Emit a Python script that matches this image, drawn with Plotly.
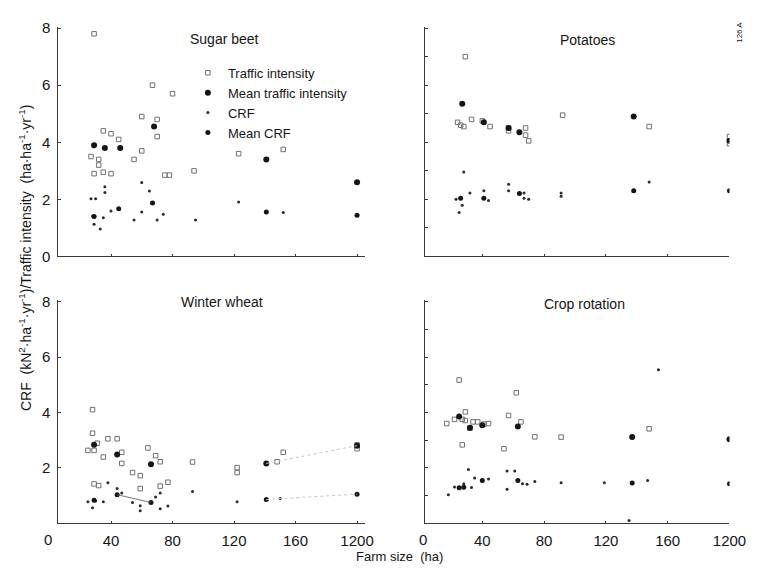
import plotly.graph_objects as go

# ---------------- data (farm size in ha; 1200 ha drawn on the broken end of the axis) ----------------
x_tick_vals = [0, 40, 80, 120, 160, 200]
x_tick_text = ["0", "40", "80", "120", "160", "1200"]
y_tick_vals_top = [0, 2, 4, 6, 8]
y_tick_vals_bottom = [2, 4, 6, 8]

# Sugar beet
beet_ti_x = [29, 67, 80, 35, 40, 45, 60, 70, 70, 60, 55, 27, 32, 32, 29, 35, 40, 75, 78, 94, 123, 152]
beet_ti_y = [7.8, 6.0, 5.7, 4.4, 4.3, 4.1, 4.9, 4.8, 4.2, 3.7, 3.4, 3.5, 3.4, 3.2, 2.9, 2.95, 2.9, 2.85, 2.85, 3.0, 3.6, 3.75]
beet_mti_x = [29, 36, 46, 68, 141, 1200]
beet_mti_y = [3.9, 3.8, 3.8, 4.55, 3.4, 2.6]
beet_crf_x = [28, 29, 33, 27, 30, 36, 36, 35, 40, 55, 60, 60, 65, 70, 74, 95, 123, 152]
beet_crf_y = [1.42, 1.13, 0.96, 2.02, 2.02, 2.44, 2.24, 1.36, 1.59, 1.28, 2.59, 1.56, 2.29, 1.28, 1.48, 1.28, 1.91, 1.54]
beet_mcrf_x = [29, 45, 67, 141, 1200]
beet_mcrf_y = [1.40, 1.67, 1.87, 1.56, 1.44]

# Potatoes
pot_ti_x = [29, 24, 28, 26, 33, 40, 45, 57, 57, 68, 68, 70, 92, 148, 1200, 1200]
pot_ti_y = [7.0, 4.7, 4.55, 4.6, 4.8, 4.75, 4.55, 4.5, 4.4, 4.5, 4.25, 4.05, 4.95, 4.55, 4.2, 3.95]
pot_mti_x = [27, 41, 57, 64, 138, 1200]
pot_mti_y = [5.35, 4.7, 4.5, 4.35, 4.9, 4.05]
pot_crf_x = [28, 23, 27, 25, 32, 41, 44, 57, 57, 67, 67, 70, 91, 91, 148]
pot_crf_y = [2.96, 2.0, 1.79, 1.54, 2.22, 2.30, 1.96, 2.53, 2.30, 2.22, 2.04, 2.0, 2.22, 2.11, 2.61]
pot_mcrf_x = [26, 41, 64, 138, 1200]
pot_mcrf_y = [2.04, 2.04, 2.21, 2.30, 2.30]

# Winter wheat
wheat_ti_x = [28, 28, 25, 29, 31, 38, 44, 35, 47, 47, 64, 69, 72, 54, 59, 29, 32, 59, 72, 77, 93, 122, 122, 152, 148, 1200, 1200]
wheat_ti_y = [4.1, 3.25, 2.63, 2.63, 2.89, 3.05, 3.05, 2.39, 2.56, 2.16, 2.72, 2.44, 2.22, 1.83, 1.72, 1.42, 1.36, 1.25, 1.34, 1.48, 2.21, 2.01, 1.83, 2.56, 2.22, 2.83, 2.69]
wheat_mti_x = [29, 44, 66, 141, 1200]
wheat_mti_y = [2.83, 2.48, 2.13, 2.16, 2.80]
wheat_crf_x = [25, 30, 28, 35, 38, 44, 47, 54, 59, 59, 69, 72, 72, 77, 93, 122, 150]
wheat_crf_y = [0.78, 0.8, 0.56, 0.78, 1.46, 1.25, 1.09, 0.75, 0.63, 0.45, 0.95, 1.09, 0.52, 0.62, 1.15, 0.78, 0.89]
wheat_mcrf_x = [29, 44, 66, 141, 1200]
wheat_mcrf_y = [0.83, 1.03, 0.75, 0.86, 1.05]

# Crop rotation
rot_ti_x = [25, 62, 29, 57, 17, 22, 27, 29, 34, 37, 32, 41, 44, 65, 74, 91, 148, 27, 54]
rot_ti_y = [5.17, 4.71, 4.02, 3.89, 3.6, 3.75, 3.75, 3.71, 3.66, 3.66, 3.43, 3.58, 3.6, 3.66, 3.12, 3.11, 3.41, 2.83, 2.69]
rot_mti_x = [25, 32, 40, 63, 137, 1200]
rot_mti_y = [3.85, 3.45, 3.54, 3.49, 3.11, 3.03]
rot_crf_x = [154, 31, 56, 61, 35, 44, 28, 33, 22, 18, 56, 66, 69, 74, 91, 119, 147, 135]
rot_crf_y = [5.54, 1.94, 1.89, 1.89, 1.63, 1.6, 1.43, 1.29, 1.31, 1.03, 1.23, 1.43, 1.41, 1.51, 1.46, 1.46, 1.54, 0.1]
rot_mcrf_x = [25, 28, 40, 63, 137, 1200]
rot_mcrf_y = [1.28, 1.3, 1.54, 1.54, 1.45, 1.43]


def pos(vals):
    """Broken axis: the 1200 ha farm sits at the last tick position."""
    return [200 if v >= 1200 else v for v in vals]


FONT = "Liberation Sans, Arial, Helvetica, sans-serif"
INK = "#151515"
AXIS = "#3a3a3a"

fig = go.Figure()

panels = [
    ("x", "y", beet_ti_x, beet_ti_y, beet_mti_x, beet_mti_y, beet_crf_x, beet_crf_y, beet_mcrf_x, beet_mcrf_y),
    ("x2", "y2", pot_ti_x, pot_ti_y, pot_mti_x, pot_mti_y, pot_crf_x, pot_crf_y, pot_mcrf_x, pot_mcrf_y),
    ("x3", "y3", wheat_ti_x, wheat_ti_y, wheat_mti_x, wheat_mti_y, wheat_crf_x, wheat_crf_y, wheat_mcrf_x, wheat_mcrf_y),
    ("x4", "y4", rot_ti_x, rot_ti_y, rot_mti_x, rot_mti_y, rot_crf_x, rot_crf_y, rot_mcrf_x, rot_mcrf_y),
]

for i, (xa, ya, tix, tiy, mtix, mtiy, crfx, crfy, mcrfx, mcrfy) in enumerate(panels):
    first = i == 0
    fig.add_trace(go.Scatter(x=pos(tix), y=tiy, mode="markers", name="Traffic intensity",
                             xaxis=xa, yaxis=ya, showlegend=first, legendrank=1,
                             marker=dict(symbol="square-open", size=4.5, color="#707070", line=dict(width=1))))
    fig.add_trace(go.Scatter(x=pos(mtix), y=mtiy, mode="markers", name="Mean traffic intensity",
                             xaxis=xa, yaxis=ya, showlegend=first, legendrank=2,
                             marker=dict(symbol="circle", size=6, color=INK)))
    fig.add_trace(go.Scatter(x=pos(crfx), y=crfy, mode="markers", name="CRF",
                             xaxis=xa, yaxis=ya, showlegend=first, legendrank=3,
                             marker=dict(symbol="circle", size=3, color="#2a2a2a")))
    fig.add_trace(go.Scatter(x=pos(mcrfx), y=mcrfy, mode="markers", name="Mean CRF",
                             xaxis=xa, yaxis=ya, showlegend=first, legendrank=4,
                             marker=dict(symbol="circle", size=5, color=INK)))

# faint connecting lines visible in the winter wheat panel
fig.add_trace(go.Scatter(x=pos(wheat_mcrf_x[1:3]), y=wheat_mcrf_y[1:3], mode="lines", xaxis="x3", yaxis="y3",
                         showlegend=False, hoverinfo="skip", line=dict(color="#555", width=0.8)))
fig.add_trace(go.Scatter(x=pos(wheat_mti_x[3:5]), y=wheat_mti_y[3:5], mode="lines", xaxis="x3", yaxis="y3",
                         showlegend=False, hoverinfo="skip", line=dict(color="#c8c8c8", width=1, dash="dot")))
fig.add_trace(go.Scatter(x=pos(wheat_mcrf_x[3:5]), y=wheat_mcrf_y[3:5], mode="lines", xaxis="x3", yaxis="y3",
                         showlegend=False, hoverinfo="skip", line=dict(color="#c8c8c8", width=1, dash="dot")))

W, H = 760, 569
left_dom = [51.4 / W, 364.9 / W]
right_dom = [426.7 / W, 738.0 / W]
top_dom = [1 - 248 / H, 1 - 12 / H]
bot_dom = [1 - 522 / H, 1 - 293 / H]
left_range = [5.7, 205]
right_range = [3, 200]

tickfont = dict(family=FONT, size=15, color=INK)


def xaxis(dom, rng, anchor, labels):
    return dict(domain=dom, range=rng, anchor=anchor, showgrid=False, zeroline=False,
                showline=True, linecolor=AXIS, linewidth=1,
                tickvals=x_tick_vals, ticktext=x_tick_text, showticklabels=labels,
                ticks="inside", ticklen=2, tickcolor=AXIS, tickfont=tickfont,
                ticklabelstandoff=4)


def yaxis(dom, anchor, tickvals, labels):
    tv = tickvals if labels else list(range(0, 9))
    return dict(domain=dom, range=[0, 8.05], anchor=anchor, showgrid=False, zeroline=False,
                showline=True, linecolor=AXIS, linewidth=1,
                tickvals=tv, showticklabels=labels,
                ticks="inside", ticklen=3, tickcolor=AXIS, tickfont=tickfont,
                ticklabelstandoff=4)


fig.update_layout(
    width=W, height=H,
    margin=dict(l=0, r=0, t=0, b=0),
    paper_bgcolor="white", plot_bgcolor="white",
    font=dict(family=FONT, color=INK),
    xaxis=xaxis(left_dom, left_range, "y", False),
    yaxis=yaxis(top_dom, "x", y_tick_vals_top, True),
    xaxis2=xaxis(right_dom, right_range, "y2", False),
    yaxis2=yaxis(top_dom, "x2", y_tick_vals_top, False),
    xaxis3=xaxis(left_dom, left_range, "y3", True),
    yaxis3=yaxis(bot_dom, "x3", y_tick_vals_bottom, True),
    xaxis4=xaxis(right_dom, right_range, "y4", True),
    yaxis4=yaxis(bot_dom, "x4", y_tick_vals_bottom, False),
    legend=dict(x=(224 - 40) / W, y=1 - 44 / H, xanchor="left", yanchor="top",
                bgcolor="rgba(0,0,0,0)", borderwidth=0, font=dict(family=FONT, size=13, color=INK),
                itemwidth=30, tracegroupgap=0),
)

annotations = [
    dict(text="Sugar beet", x=221 / W, y=1 - 25 / H),
    dict(text="Potatoes", x=593 / W, y=1 - 26 / H),
    dict(text="Winter wheat", x=219 / W, y=1 - 295 / H),
    dict(text="Crop rotation", x=590 / W, y=1 - 297 / H),
]
for a in annotations:
    fig.add_annotation(xref="paper", yref="paper", showarrow=False, xanchor="center", yanchor="middle",
                       font=dict(family=FONT, size=14, color=INK), **a)

# "0" tick labels at the origin of the broken farm-size axes (origin lies just left of the drawn axis)
for x0 in (41, 425):
    fig.add_annotation(xref="paper", yref="paper", x=x0 / W, y=1 - 539 / H, text="0", showarrow=False,
                       xanchor="center", yanchor="middle", font=tickfont)

fig.add_annotation(xref="paper", yref="paper", x=18 / W, y=1 - 250 / H, textangle=-90, showarrow=False,
                   xanchor="center", yanchor="middle", font=dict(family=FONT, size=14, color=INK),
                   text="CRF  (kN<sup>2</sup>·ha<sup>-1</sup>·yr<sup>-1</sup>)/Traffic intensity  (ha·ha<sup>-1</sup>·yr<sup>-1</sup>)")
fig.add_annotation(xref="paper", yref="paper", x=400 / W, y=1 - 556 / H, showarrow=False,
                   xanchor="center", yanchor="middle", font=dict(family=FONT, size=13, color=INK),
                   text="Farm size  (ha)")
fig.add_annotation(xref="paper", yref="paper", x=748 / W, y=1 - 18 / H, textangle=-90, showarrow=False,
                   xanchor="center", yanchor="middle", font=dict(family=FONT, size=8, color=INK),
                   text="126 A")

fig.write_html("out.html")
